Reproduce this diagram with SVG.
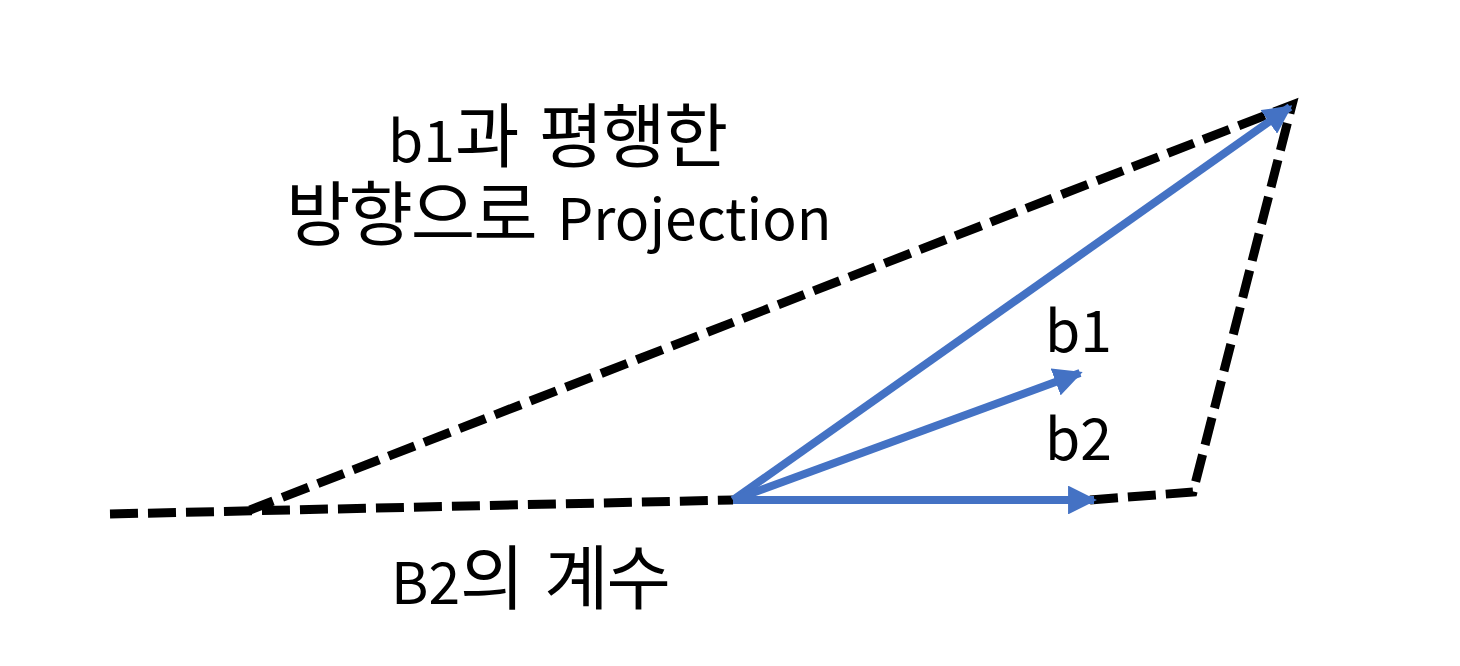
<svg xmlns="http://www.w3.org/2000/svg" width="1460" height="666" viewBox="0 0 1460 666">
<style>
.dash{fill:none;stroke:#000;stroke-width:9;stroke-dasharray:28 10;stroke-linejoin:miter}
.vec{fill:none;stroke:#4472C4;stroke-width:8}
.lbl{font-family:"Noto Sans CJK KR","Noto Sans",sans-serif;font-size:57px;fill:#000}
.ko{font-size:70px;letter-spacing:-2px;word-spacing:8px}
</style>
<defs>
<marker id="ah" viewBox="0 0 10 10" refX="9" refY="5" markerWidth="3.6" markerHeight="3.6" orient="auto" markerUnits="strokeWidth">
<path d="M0,0 L10,5 L0,10 Z" fill="#4472C4"/>
</marker>
</defs>
<rect width="1460" height="666" fill="#fff"/>
<g id="connectors">
<path class="dash" d="M110,514 L733,500"/>
<path class="dash" d="M1090,500 L1193,492 L1292,105 L250,510"/>
<line class="vec" x1="733" y1="500" x2="1290" y2="107" marker-end="url(#ah)"/>
<line class="vec" x1="733" y1="500" x2="1080" y2="373" marker-end="url(#ah)"/>
<line class="vec" x1="733" y1="500" x2="1094" y2="500" marker-end="url(#ah)"/>
</g>
<g id="label-projection">
<text class="lbl"><tspan x="388" y="162">b1<tspan class="ko">과 평행한</tspan></tspan><tspan x="286" y="240"><tspan class="ko">방향으로 </tspan>Projection</tspan></text>
</g>
<g id="label-b2coef">
<text class="lbl" x="391" y="604">B2<tspan class="ko">의 계수</tspan></text>
</g>
<g id="label-b1"><text class="lbl" x="1045" y="352">b1</text></g>
<g id="label-b2"><text class="lbl" x="1045" y="460">b2</text></g>
</svg>
